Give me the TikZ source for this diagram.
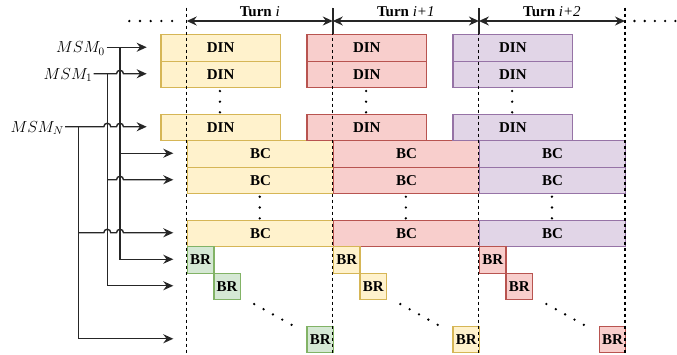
\RequirePackage{fix-cm}
\documentclass[tikz,border=0pt]{standalone}
\usepackage{fontspec}
\setmainfont{Liberation Serif}
\usetikzlibrary{arrows.meta}
\definecolor{yf}{HTML}{FFF2CC}\definecolor{yd}{HTML}{D6B656}
\definecolor{rf}{HTML}{F8CECC}\definecolor{rd}{HTML}{B85450}
\definecolor{pf}{HTML}{E1D5E7}\definecolor{pd}{HTML}{9673A6}
\definecolor{gf}{HTML}{D5E8D4}\definecolor{gd}{HTML}{82B366}
\begin{document}
\begin{tikzpicture}[x=1pt,y=-1pt,
  blk/.style={draw, line width=1.4pt, inner sep=0pt, anchor=north west,
    minimum height=26.5pt, font=\fontsize{15}{17}\selectfont\bfseries},
  conn/.style={line width=1.4pt, black!85},
  arr/.style={conn, -{Stealth[length=10pt,width=9pt]}},
  tarr/.style={conn, {Stealth[length=10pt,width=9pt]}-{Stealth[length=10pt,width=9pt]}},
  vdash/.style={line width=1.1pt, dash pattern=on 3pt off 3pt},
  msm/.style={anchor=base east, inner sep=0pt, font=\fontsize{16}{19}\selectfont},
  turnlbl/.style={font=\fontsize{15}{17}\selectfont, inner sep=0pt}]
\useasboundingbox (0,0) rectangle (677,354);

% ---- boxes per turn
\foreach \k/\cF/\cD/\cG/\cH in {0/yf/yd/gf/gd,1/rf/rd/yf/yd,2/pf/pd/rf/rd}{
  \pgfmathsetmacro{\ts}{186.7+146.1*\k}
  \node[blk,fill=\cF,draw=\cD,minimum width=119.5pt] (din0-\k) at ({\ts-26.5},34) {DIN};
  \node[blk,fill=\cF,draw=\cD,minimum width=119.5pt] (din1-\k) at ({\ts-26.5},60.5) {DIN};
  \node[blk,fill=\cF,draw=\cD,minimum width=119.5pt] (dinN-\k) at ({\ts-26.5},113.5) {DIN};
  \node[blk,fill=\cF,draw=\cD,minimum width=146.1pt] (bc0-\k) at (\ts,140) {BC};
  \node[blk,fill=\cF,draw=\cD,minimum width=146.1pt] (bc1-\k) at (\ts,166.5) {BC};
  \node[blk,fill=\cF,draw=\cD,minimum width=146.1pt] (bcN-\k) at (\ts,219.5) {BC};
  \node[blk,fill=\cG,draw=\cH,minimum width=26.5pt] (br0-\k) at (\ts,246) {BR};
  \node[blk,fill=\cG,draw=\cH,minimum width=26.5pt] (br1-\k) at ({\ts+26.5},272.5) {BR};
  \node[blk,fill=\cG,draw=\cH,minimum width=26.5pt] (brN-\k) at ({\ts+146.1-26.5},325.5) {BR};
  % vertical dots
  \foreach \j in {0,1,2}{
    \fill ({\ts+33.25},{91+10.65*\j}) circle (1.3pt);
    \fill ({\ts+73.05},{196.7+10.8*\j}) circle (1.3pt);
  }
  % diagonal dots
  \foreach \j in {0,...,4}{
    \fill ({\ts+67.5+9.35*\j},{304+5.2*\j}) circle (1.3pt);
  }
}

% ---- turn boundaries
\foreach \x in {186.7,332.8,478.9,625}{
  \draw[vdash] (\x,7.5) -- (\x,354);
}
\draw[conn] (332.8,8) -- (332.8,34);
\draw[conn] (478.9,8) -- (478.9,34);

\coordinate (t0) at (186.7,21);
\coordinate (t1) at (332.8,21);
\coordinate (t2) at (478.9,21);
\coordinate (t3) at (625,21);
\draw[tarr] (t0) -- (t1);
\draw[tarr] (t1) -- (t2);
\draw[tarr] (t2) -- (t3);
\node[turnlbl] (L0) at (259.75,12) {\textbf{Turn} \textit{i}};
\node[turnlbl] (L1) at (405.85,12) {\textbf{Turn} \textit{i+1}};
\node[turnlbl] (L2) at (551.95,12) {\textbf{Turn} \textit{i+2}};

% top dotted lines
\foreach \j in {0,...,4}{
  \fill ({129.3+10.7*\j},21) circle (1.3pt);
  \fill ({634.5+10.2*\j},21) circle (1.3pt);
}

% ---- MSM labels and wiring
\node[msm] (m0) at (105,52.6) {$MSM_0$};
\node[msm] (m1) at (92.5,79.1) {$MSM_1$};
\node[msm] (mN) at (64,132.1) {$MSM_N$};

\coordinate (s0) at (106.5,47.25);
\coordinate (s1) at (93.5,73.75);
\coordinate (sN) at (65,126.75);
\coordinate (tD0) at (146.7,47.25);
\coordinate (tD1) at (146.7,73.75);
\coordinate (tDN) at (146.7,126.75);
\coordinate (tC0) at (173.3,153.25);
\coordinate (tC1) at (173.3,179.75);
\coordinate (tCN) at (173.3,232.75);
\coordinate (tR0) at (173.3,259.25);
\coordinate (tR1) at (173.3,285.75);
\coordinate (tRN) at (173.3,338.75);

% MSM_0
\draw[arr] (s0) -- (tD0);
\draw[arr] (120,47.25) |- (tR0);
\draw[arr] (120,153.25) -- (tC0);
% MSM_1
\draw[arr] (s1) -- (116.5,73.75) arc[start angle=180,end angle=0,radius=3.5pt] -- (tD1);
\draw[arr] (107.3,73.75) |- (tR1);
\draw[arr] (107.3,179.75) -- (116.5,179.75) arc[start angle=180,end angle=0,radius=3.5pt] -- (tC1);
% MSM_N
\draw[arr] (sN) -- (103.8,126.75) arc[start angle=180,end angle=0,radius=3.5pt]
  -- (116.5,126.75) arc[start angle=180,end angle=0,radius=3.5pt] -- (tDN);
\draw[arr] (78.3,126.75) |- (tRN);
\draw[arr] (78.3,232.75) -- (103.8,232.75) arc[start angle=180,end angle=0,radius=3.5pt]
  -- (116.5,232.75) arc[start angle=180,end angle=0,radius=3.5pt] -- (tCN);
\end{tikzpicture}
\end{document}
